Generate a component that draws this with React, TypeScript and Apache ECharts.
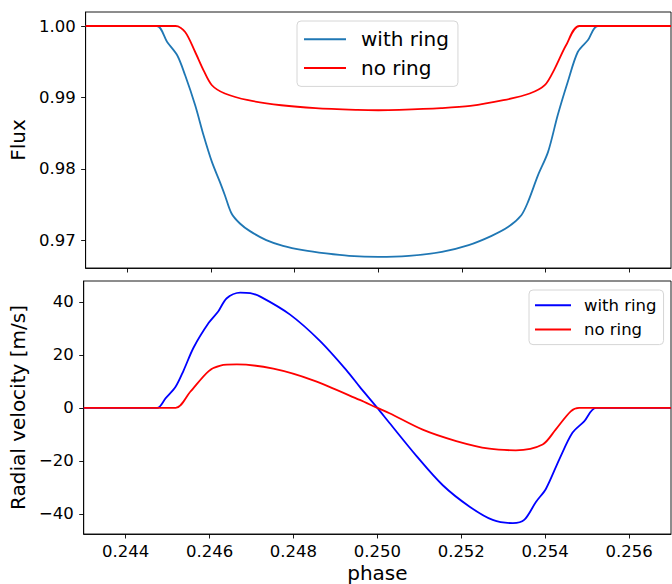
import React, { useEffect, useRef } from 'react';
import * as echarts from 'echarts';

// ---- data ----
const phaseFluxRing = [0.243, 0.2447, 0.24495, 0.24519, 0.24538, 0.24562, 0.24582, 0.24602, 0.24621, 0.24633, 0.24649, 0.24669, 0.24693, 0.24732, 0.24772, 0.2482, 0.24875, 0.2493, 0.25, 0.25073, 0.25152, 0.25216, 0.25271, 0.25311, 0.25342, 0.25358, 0.25382, 0.25406, 0.25429, 0.25453, 0.25477, 0.25501, 0.25525, 0.257];
const fluxRing = [1.0, 1.0, 0.99776, 0.9959, 0.9931, 0.98891, 0.98471, 0.98098, 0.97818, 0.97632, 0.97376, 0.97236, 0.97129, 0.97003, 0.96923, 0.96863, 0.96817, 0.96783, 0.96768, 0.96783, 0.96839, 0.96933, 0.97063, 0.97189, 0.97352, 0.97538, 0.97912, 0.98238, 0.98751, 0.99217, 0.99636, 0.998, 1.0, 1.0];

const phaseFluxNoRing = [0.243, 0.24515, 0.24538, 0.24562, 0.24582, 0.24602, 0.24633, 0.24689, 0.24768, 0.2485, 0.2495, 0.25, 0.2505, 0.2515, 0.2522, 0.25299, 0.25362, 0.25398, 0.25422, 0.25449, 0.25481, 0.257];
const fluxNoRing = [1.0, 1.0, 0.99916, 0.99636, 0.9938, 0.99171, 0.99055, 0.98961, 0.98891, 0.9885, 0.98826, 0.98821, 0.98826, 0.9885, 0.98881, 0.98961, 0.99055, 0.99171, 0.99404, 0.9973, 1.0, 1.0];

const phaseRvRing = [0.243, 0.24475, 0.24495, 0.24519, 0.24538, 0.24562, 0.24598, 0.24621, 0.24641, 0.24673, 0.24697, 0.24721, 0.24792, 0.24863, 0.24927, 0.24958, 0.25, 0.25029, 0.25093, 0.25156, 0.2522, 0.25275, 0.25323, 0.2535, 0.25378, 0.25402, 0.25434, 0.25465, 0.25493, 0.25521, 0.257];
const rvRing = [0, 0, 3.6, 7.96, 14.1, 22.8, 32.1, 36.5, 41.4, 43.5, 43.3, 42.0, 35.2, 25.3, 14.1, 7.96, 0, -5.7, -18.1, -29.2, -37.3, -42.3, -43.5, -42.3, -35.5, -30.5, -19.3, -9.4, -5.1, 0, 0];

const phaseRvNoRing = [0.243, 0.24519, 0.24554, 0.24598, 0.24626, 0.24665, 0.24752, 0.24847, 0.24958, 0.25, 0.25029, 0.25108, 0.25188, 0.25267, 0.2533, 0.25394, 0.25425, 0.25461, 0.25481, 0.257];
const rvNoRing = [0, 0, 6.1, 13.9, 16.0, 16.4, 14.8, 10.4, 3.0, 0, -2.0, -8.2, -12.5, -15.4, -16.0, -13.8, -8.2, -1.3, 0, 0];

const phaseTicks = [0.244, 0.246, 0.248, 0.25, 0.252, 0.254, 0.256];
const fluxTicks = [0.97, 0.98, 0.99, 1.0];
const rvTicks = [-40, -20, 0, 20, 40];
const seriesNames = ['with ring', 'no ring'];

const FONT = 'DejaVu Sans';
const pair = (xs: number[], ys: number[]) => xs.map((x, i) => [x, ys[i]]);
const minus = (s: string) => s.replace('-', '\u2212');

export default function App() {
  const ref = useRef<HTMLDivElement>(null);
  useEffect(() => {
    if (!ref.current) return;
    const chart = echarts.init(ref.current, null, { renderer: 'svg' });
    const axisLine = { show: true, onZero: false, lineStyle: { color: '#000', width: 0.9 } };
    const axisTick = { show: true, length: 4.5, lineStyle: { color: '#000', width: 0.9 } };
    const xAxisBase = {
      type: 'value' as const,
      min: 0.243,
      max: 0.257,
      splitLine: { show: false },
      axisLine,
    };
    const lineBase = {
      type: 'line' as const,
      showSymbol: false,
      symbol: 'none',
      smooth: 0.3,
      clip: true,
    };
    chart.setOption({
      animation: false,
      backgroundColor: '#fff',
      grid: [
        { left: 83, top: 12, width: 588, height: 256, show: true, borderColor: '#000', borderWidth: 0.9, backgroundColor: 'transparent' },
        { left: 83, top: 281, width: 588, height: 257, show: true, borderColor: '#000', borderWidth: 0.9, backgroundColor: 'transparent' },
      ],
      xAxis: [
        {
          ...xAxisBase,
          gridIndex: 0,
          axisTick: { ...axisTick, customValues: phaseTicks },
          axisLabel: { show: false },
        },
        {
          ...xAxisBase,
          gridIndex: 1,
          name: 'phase',
          nameLocation: 'middle',
          nameGap: 29,
          nameTextStyle: { fontFamily: FONT, fontSize: 20, color: '#000' },
          axisTick: { ...axisTick, customValues: phaseTicks },
          axisLabel: {
            customValues: phaseTicks,
            formatter: (v: number) => v.toFixed(3),
            fontFamily: FONT,
            fontSize: 16.5,
            color: '#000',
            margin: 9,
          },
        },
      ],
      yAxis: [
        {
          type: 'value',
          gridIndex: 0,
          min: 0.96613,
          max: 1.00196,
          splitLine: { show: false },
          axisLine,
          name: 'Flux',
          nameLocation: 'middle',
          nameGap: 49.5,
          nameTextStyle: { fontFamily: FONT, fontSize: 20, color: '#000' },
          axisTick: { ...axisTick, customValues: fluxTicks },
          axisLabel: {
            customValues: fluxTicks,
            formatter: (v: number) => v.toFixed(2),
            fontFamily: FONT,
            fontSize: 16.5,
            color: '#000',
            margin: 10,
          },
        },
        {
          type: 'value',
          gridIndex: 1,
          min: -47.6,
          max: 47.9,
          splitLine: { show: false },
          axisLine,
          name: 'Radial velocity [m/s]',
          nameLocation: 'middle',
          nameGap: 45,
          nameTextStyle: { fontFamily: FONT, fontSize: 20, color: '#000' },
          axisTick: { ...axisTick, customValues: rvTicks },
          axisLabel: {
            customValues: rvTicks,
            formatter: (v: number) => minus(String(Math.round(v))),
            fontFamily: FONT,
            fontSize: 16.5,
            color: '#000',
            margin: 10,
          },
        },
      ],
      legend: [
        {
          left: 297,
          top: 21,
          orient: 'vertical',
          selectedMode: false,
          icon: 'rect',
          itemWidth: 42,
          itemHeight: 2,
          itemGap: 0,
          padding: [4, 9, 4, 7],
          backgroundColor: 'rgba(255,255,255,0.8)',
          borderColor: '#d6d6d6',
          borderWidth: 1,
          borderRadius: 4,
          textStyle: { fontFamily: FONT, fontSize: 20, color: '#000', lineHeight: 28.7, padding: [0, 0, 0, 10] },
          data: [
            { name: seriesNames[0], itemStyle: { color: '#1f77b4', borderColor: '#1f77b4', borderWidth: 0 } },
            { name: seriesNames[1], itemStyle: { color: '#ff0000', borderColor: '#ff0000', borderWidth: 0 } },
          ],
        },
        {
          left: 529,
          top: 290,
          orient: 'vertical',
          selectedMode: false,
          icon: 'rect',
          itemWidth: 36,
          itemHeight: 2,
          itemGap: 0,
          padding: [3, 7, 3, 6],
          backgroundColor: 'rgba(255,255,255,0.8)',
          borderColor: '#d6d6d6',
          borderWidth: 1,
          borderRadius: 4,
          textStyle: { fontFamily: FONT, fontSize: 16.5, color: '#000', lineHeight: 24.3, padding: [0, 0, 0, 8] },
          data: [
            { name: seriesNames[0], itemStyle: { color: '#0000ff', borderColor: '#0000ff', borderWidth: 0 } },
            { name: seriesNames[1], itemStyle: { color: '#ff0000', borderColor: '#ff0000', borderWidth: 0 } },
          ],
        },
      ],
      series: [
        { ...lineBase, name: seriesNames[0], xAxisIndex: 0, yAxisIndex: 0, data: pair(phaseFluxRing, fluxRing), lineStyle: { color: '#1f77b4', width: 1.8 }, itemStyle: { color: '#1f77b4' } },
        { ...lineBase, name: seriesNames[1], xAxisIndex: 0, yAxisIndex: 0, data: pair(phaseFluxNoRing, fluxNoRing), lineStyle: { color: '#ff0000', width: 1.8 }, itemStyle: { color: '#ff0000' } },
        { ...lineBase, name: seriesNames[0], xAxisIndex: 1, yAxisIndex: 1, data: pair(phaseRvRing, rvRing), lineStyle: { color: '#0000ff', width: 1.8 }, itemStyle: { color: '#0000ff' } },
        { ...lineBase, name: seriesNames[1], xAxisIndex: 1, yAxisIndex: 1, data: pair(phaseRvNoRing, rvNoRing), lineStyle: { color: '#ff0000', width: 1.8 }, itemStyle: { color: '#ff0000' } },
      ],
    });
    return () => chart.dispose();
  }, []);
  return <div ref={ref} style={{ position: 'fixed', left: 0, top: 0, width: 672, height: 584 }} />;
}
